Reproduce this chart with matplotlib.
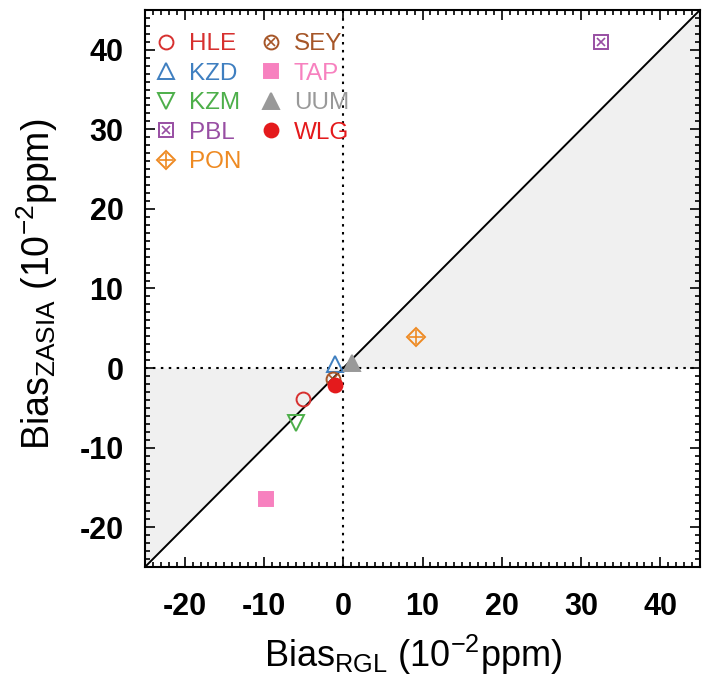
import matplotlib
matplotlib.use("Agg")
import matplotlib.pyplot as plt
import numpy as np
from matplotlib.ticker import MultipleLocator
from matplotlib.lines import Line2D

plt.rcParams['font.family'] = ['Liberation Sans', 'DejaVu Sans']
plt.rcParams['axes.unicode_minus'] = False
plt.rcParams['mathtext.fontset'] = 'custom'
plt.rcParams['mathtext.rm'] = 'Liberation Sans'

# Station biases (1e-2 ppm): RGL inversion vs ZASIA inversion
stations = ["HLE", "KZD", "KZM", "PBL", "PON", "SEY", "TAP", "UUM", "WLG"]
bias_rgl = [-5.1, -1.0, -5.95, 32.5, 9.15, -1.25, -9.7, 1.1, -1.1]
bias_zasia = [-3.9, 0.5, -6.9, 41.0, 3.9, -1.4, -16.5, 0.6, -2.1]
colors = ["#d7302f", "#3f7fc0", "#4daf4a", "#984ea3", "#ee8a22",
          "#a65628", "#f781bf", "#999999", "#e41a1c"]
# (base marker, filled, overlay marker)
styles = [("o", False, None), ("^", False, None), ("v", False, None),
          ("s", False, "x"), ("D", False, "+"), ("o", False, "x"),
          ("s", True, None), ("^", True, None), ("o", True, None)]

lim = (-25, 45)
ticks = [-20, -10, 0, 10, 20, 30, 40]

fig = plt.figure(figsize=(7.03, 6.79), dpi=100)
ax = fig.add_axes([0.2063, 0.165, 0.7894, 0.8203])

# shaded wedge between the 1:1 line and the zero line
xs = np.linspace(lim[0], lim[1], 200)
ax.fill_between(xs, 0, xs, color="#f0f0f0", lw=0, zorder=0)
ax.plot(lim, lim, color="black", lw=1.4, zorder=1)
ax.axhline(0, color="black", lw=1.5, ls=(0, (1.2, 2.6)), zorder=1)
ax.axvline(0, color="black", lw=1.5, ls=(0, (1.2, 2.6)), zorder=1)

sizes = {"o": 10, "^": 11, "v": 11, "s": 10, "D": 9}

handles = []
for name, x, y, c, (m, filled, over) in zip(stations, bias_rgl, bias_zasia, colors, styles):
    ms = sizes[m]
    kw = dict(marker=m, ls="none", ms=ms, mec=c, mew=1.4,
              mfc=c if filled else "none")
    ax.add_line(Line2D([x], [y], **kw))
    h = [Line2D([], [], **kw)]
    if over:
        ov_ms = ms * (0.62 if over == "x" else 1.1)
        okw = dict(marker=over, ls="none", ms=ov_ms, mec=c, mew=1.2)
        ax.add_line(Line2D([x], [y], **okw))
        h.append(Line2D([], [], **okw))
    handles.append(tuple(h))

leg = ax.legend(handles, stations, ncol=2, loc="upper left",
                bbox_to_anchor=(-0.001, 0.976), frameon=False, fontsize=17.5,
                handlelength=1.0, handletextpad=0.42, columnspacing=0.75,
                labelspacing=0.31, borderaxespad=0.0)
for t, c in zip(leg.get_texts(), colors):
    t.set_color(c)

ax.set_xlim(lim)
ax.set_ylim(lim)
ax.set_xticks(ticks)
ax.set_yticks(ticks)
ax.xaxis.set_minor_locator(MultipleLocator(1))
ax.yaxis.set_minor_locator(MultipleLocator(1))
ax.tick_params(which="both", direction="in", top=True, right=True, width=1.2)
ax.tick_params(which="major", length=7.2)
ax.tick_params(which="minor", length=3.6)
ax.tick_params(axis="x", pad=18)
ax.tick_params(axis="y", pad=15.5)
for lab in ax.get_xticklabels() + ax.get_yticklabels():
    lab.set_fontsize(22)
    lab.set_fontweight("bold")
for s in ax.spines.values():
    s.set_linewidth(1.5)

ax.set_xlabel(r"Bias$_{\mathregular{RGL}}$ (10$^{\mathregular{-2}}$ppm)", fontsize=26)
ax.set_ylabel(r"Bias$_{\mathregular{ZASIA}}$ (10$^{\mathregular{-2}}$ppm)", fontsize=27)
ax.xaxis.label.set_va("baseline")
ax.yaxis.label.set_va("baseline")
ax.xaxis.set_label_coords(0.483, -0.1795)
ax.yaxis.set_label_coords(-0.171, 0.508)

fig.savefig("out.png", dpi=100)
